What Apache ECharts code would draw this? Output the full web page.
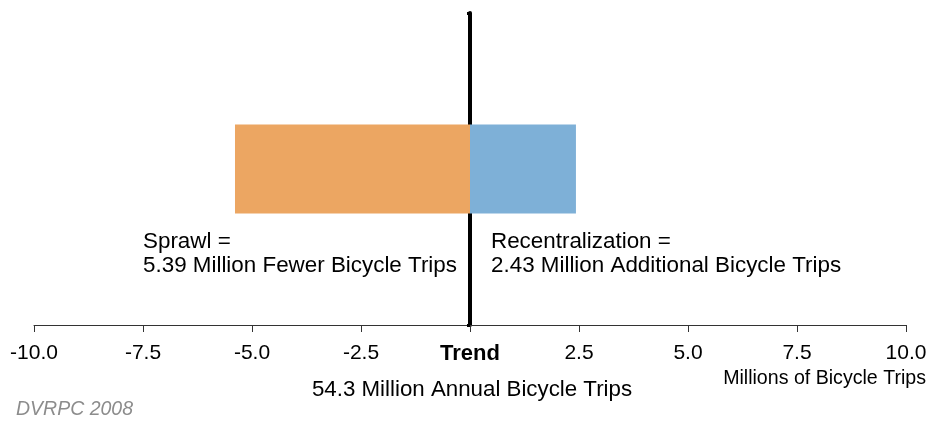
<!DOCTYPE html>
<html>
<head>
<meta charset="utf-8">
<script src="https://cdn.jsdelivr.net/npm/echarts@6/dist/echarts.min.js"></script>
<style>
html,body{margin:0;padding:0;background:#fff;}
#chart{width:931px;height:421px;}
</style>
</head>
<body>
<div id="chart"></div>
<script>
const categories = ['Scenario'];
const sprawl = [-5.39];
const recentralization = [2.43];
const axisMin = -10, axisMax = 10, axisStep = 2.5;
const zeroLabel = 'Trend';
const trendNote = '54.3 Million Annual Bicycle Trips';
const unitLabel = 'Millions of Bicycle Trips';
const sourceNote = 'DVRPC 2008';
const sprawlNote = ['Sprawl =', '5.39 Million Fewer Bicycle Trips'];
const recentNote = ['Recentralization =', '2.43 Million Additional Bicycle Trips'];

const FONT = '"Liberation Sans", Arial, sans-serif';
const chart = echarts.init(document.getElementById('chart'));

const txt = (x, y, s, extra) => Object.assign({
  type: 'text', x: x, y: y,
  style: Object.assign({text: s, fontFamily: FONT, fontSize: 22.4, fill: '#000', verticalAlign: 'middle', align: 'left'}, extra || {})
});

chart.setOption({
  animation: false,
  grid: {left: 34, right: 25, top: 13, bottom: 96, containLabel: false},
  xAxis: {
    type: 'value', min: axisMin, max: axisMax, interval: axisStep,
    splitLine: {show: false},
    axisLine: {show: true, onZero: false, lineStyle: {color: '#333', width: 1}},
    axisTick: {show: true, length: 7, lineStyle: {color: '#333', width: 1}},
    axisLabel: {
      margin: 18, color: '#000', fontFamily: FONT, fontSize: 21,
      formatter: v => v === 0 ? '{b|' + zeroLabel + '}' : v.toFixed(1),
      rich: {b: {fontWeight: 'bold', fontFamily: FONT, fontSize: 22, color: '#000'}}
    }
  },
  yAxis: {
    type: 'category', data: categories,
    axisLine: {show: true, onZero: true, lineStyle: {color: '#000', width: 4}},
    axisTick: {show: true, length: 3, lineStyle: {color: '#000', width: 3}},
    axisLabel: {show: false},
    splitLine: {show: false}
  },
  series: [
    {type: 'bar', name: 'Sprawl', stack: 'a', data: sprawl, barWidth: 89, itemStyle: {color: '#ECA662'}, z: 1},
    {type: 'bar', name: 'Recentralization', stack: 'a', data: recentralization, barWidth: 89, itemStyle: {color: '#7EB0D7'}, z: 1}
  ],
  graphic: [
    txt(143, 242, sprawlNote[0]),
    txt(143, 266, sprawlNote[1]),
    txt(491, 242, recentNote[0]),
    txt(491, 266, recentNote[1]),
    txt(472, 390, trendNote, {align: 'center', fontSize: 22.3}),
    txt(926, 379, unitLabel, {align: 'right', fontSize: 19.6}),
    txt(16, 410, sourceNote, {fontSize: 19.5, fontStyle: 'italic', fill: '#8c8c8c'})
  ]
});
</script>
</body>
</html>
